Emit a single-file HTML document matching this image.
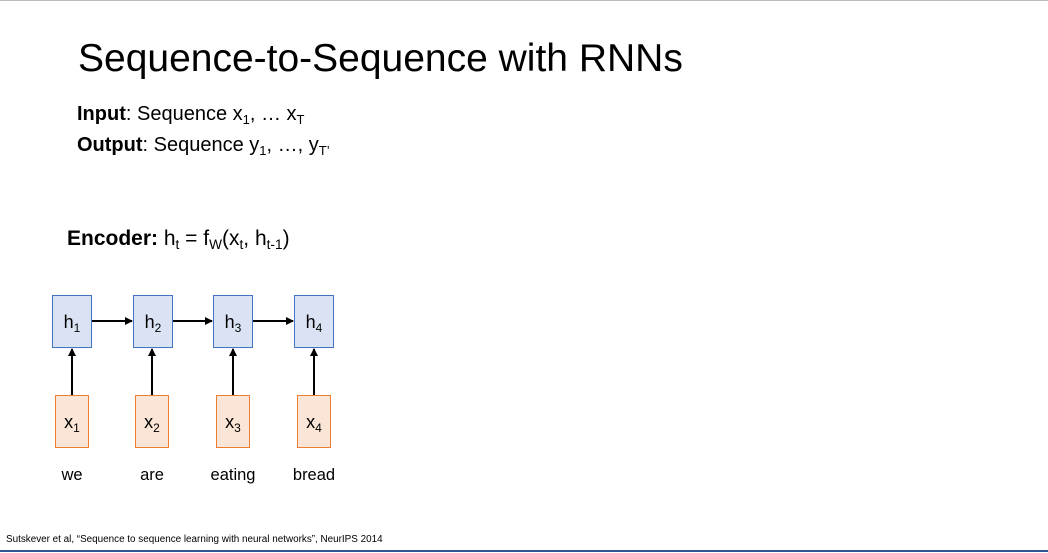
<!DOCTYPE html>
<html><head><style>
body{margin:0;width:1048px;height:553px;background:#fff;position:relative;overflow:hidden;font-family:"Liberation Sans",sans-serif;color:#000}
.a{position:absolute;white-space:nowrap}
sub{font-size:0.65em;vertical-align:-0.3em}
</style></head><body>
<div style="position:absolute;left:0;top:0;width:1048px;height:1px;background:#bbb"></div>
<div class="a" style="left:78px;top:37px;font-size:39px;letter-spacing:0px">Sequence-to-Sequence with RNNs</div>
<div class="a" style="left:77px;top:103px;font-size:20px"><b>Input</b>: Sequence x<sub>1</sub>, … x<sub>T</sub></div>
<div class="a" style="left:77px;top:134px;font-size:20px"><b>Output</b>: Sequence y<sub>1</sub>, …, y<sub>T’</sub></div>
<div class="a" style="left:67px;top:227px;font-size:21px"><b>Encoder:</b> h<sub>t</sub> = f<sub>W</sub>(x<sub>t</sub>, h<sub>t-1</sub>)</div>
<svg class="a" style="left:0;top:0" width="1048" height="553">
<defs><marker id="m" markerWidth="8" markerHeight="8" refX="7" refY="4" orient="auto" markerUnits="userSpaceOnUse"><path d="M0,0L8,4L0,8z" fill="#000"/></marker></defs>
<g fill="#dae3f3" stroke="#4472c4" stroke-width="1">
<rect x="52.5" y="295.5" width="39" height="52"/><rect x="133.5" y="295.5" width="39" height="52"/><rect x="213.5" y="295.5" width="39" height="52"/><rect x="294.5" y="295.5" width="39" height="52"/></g>
<g fill="#fbe5d6" stroke="#ed7d31" stroke-width="1">
<rect x="55.5" y="395.5" width="33" height="52"/><rect x="135.5" y="395.5" width="33" height="52"/><rect x="216.5" y="395.5" width="33" height="52"/><rect x="297.5" y="395.5" width="33" height="52"/></g>
<g stroke="#000" stroke-width="2" marker-end="url(#m)">
<line x1="92" y1="321" x2="132" y2="321"/><line x1="173" y1="321" x2="212" y2="321"/><line x1="253" y1="321" x2="293" y2="321"/>
<line x1="72" y1="395" x2="72" y2="349"/><line x1="152" y1="395" x2="152" y2="349"/><line x1="233" y1="395" x2="233" y2="349"/><line x1="314" y1="395" x2="314" y2="349"/></g>
<g font-family="Liberation Sans,sans-serif" font-size="18" text-anchor="middle">
<text x="72" y="328">h<tspan font-size="12" dy="4">1</tspan></text>
<text x="153" y="328">h<tspan font-size="12" dy="4">2</tspan></text>
<text x="233" y="328">h<tspan font-size="12" dy="4">3</tspan></text>
<text x="314" y="328">h<tspan font-size="12" dy="4">4</tspan></text>
<text x="72" y="428">x<tspan font-size="12" dy="4">1</tspan></text>
<text x="152" y="428">x<tspan font-size="12" dy="4">2</tspan></text>
<text x="233" y="428">x<tspan font-size="12" dy="4">3</tspan></text>
<text x="314" y="428">x<tspan font-size="12" dy="4">4</tspan></text>
</g>
<g font-family="Liberation Sans,sans-serif" font-size="16.5" text-anchor="middle">
<text x="72" y="480">we</text><text x="152" y="480">are</text><text x="233" y="480">eating</text><text x="314" y="480">bread</text></g>
</svg>
<div class="a" style="left:6px;top:534px;font-size:9.9px">Sutskever et al, “Sequence to sequence learning with neural networks”, NeurIPS 2014</div>
<div style="position:absolute;left:0;top:550px;width:1048px;height:2px;background:#2f5597"></div>
</body></html>
